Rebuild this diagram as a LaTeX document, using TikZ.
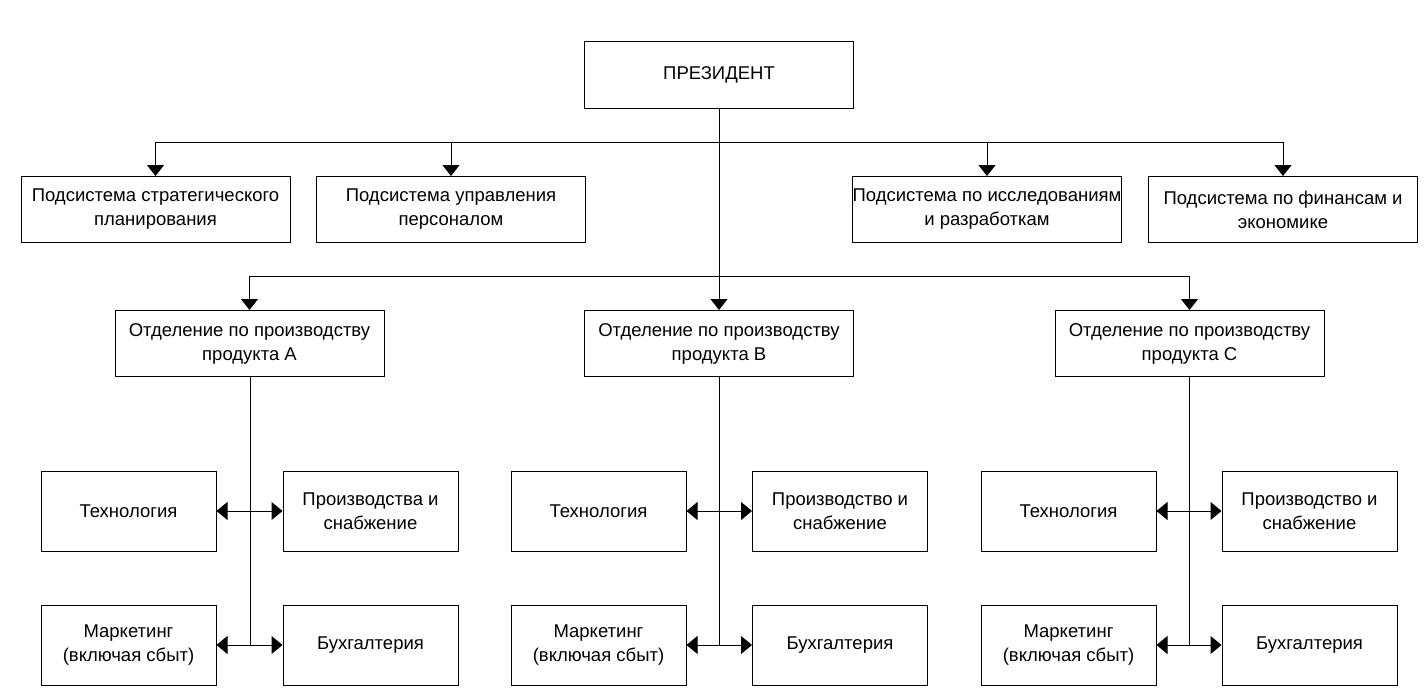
\documentclass[tikz,border=0pt]{standalone}
\usepackage{fontspec}
\setmainfont{Liberation Sans}
\usetikzlibrary{arrows.meta}
\begin{document}
\begin{tikzpicture}[x=1pt,y=-1pt,
  box/.style={draw,line width=1pt,inner sep=0pt,align=center,font=\fontsize{18.5}{24}\selectfont},
  wbox/.style={box,minimum width=269pt,minimum height=66pt},
  sbox/.style={box,minimum width=175pt,minimum height=80pt},
  link/.style={line width=1pt},
  arr/.style={link,-{Triangle[length=11pt,width=17pt]}},
  darr/.style={link,{Triangle[length=11pt,width=18pt]}-{Triangle[length=11pt,width=18pt]}}]
\useasboundingbox (0,0) rectangle (1425,693);
% top
\node[wbox] (pres) at (719,75) {ПРЕЗИДЕНТ};
% subsystems
\node[wbox] (s1) at (155.5,209.5) {Подсистема стратегического\\планирования};
\node[wbox] (s2) at (451,209.5) {Подсистема управления\\персоналом};
\node[wbox] (s3) at (987,209.5) {Подсистема по исследованиям\\и разработкам};
\node[wbox] (s4) at (1283,209.5) {Подсистема по финансам и\\экономике};
% divisions
\node[wbox] (dA) at (249.5,343.5) {Отделение по производству\\продукта A};
\node[wbox] (dB) at (719,343.5) {Отделение по производству\\продукта B};
\node[wbox] (dC) at (1189.5,343.5) {Отделение по производству\\продукта C};
% group A
\node[sbox] (tA) at (128.5,511) {Технология};
\node[sbox] (pA) at (370.5,511) {Производства и\\снабжение};
\node[sbox] (mA) at (128.5,645) {Маркетинг\\(включая сбыт)};
\node[sbox] (bA) at (370.5,645) {Бухгалтерия};
% group B
\node[sbox] (tB) at (598.5,511) {Технология};
\node[sbox] (pB) at (840,511) {Производство и\\снабжение};
\node[sbox] (mB) at (598.5,645) {Маркетинг\\(включая сбыт)};
\node[sbox] (bB) at (840,645) {Бухгалтерия};
% group C
\node[sbox] (tC) at (1068.5,511) {Технология};
\node[sbox] (pC) at (1309.5,511) {Производство и\\снабжение};
\node[sbox] (mC) at (1068.5,645) {Маркетинг\\(включая сбыт)};
\node[sbox] (bC) at (1309.5,645) {Бухгалтерия};
% connectors
\coordinate (h1) at (719,142);
\coordinate (h2) at (719,276);
\draw[arr] (pres.south) -- (dB.north);
\draw[arr] (h1) -| (s1.north);
\draw[arr] (h1) -| (s2.north);
\draw[arr] (h1) -| (s3.north);
\draw[arr] (h1) -| (s4.north);
\draw[arr] (h2) -| (dA.north);
\draw[arr] (h2) -| (dC.north);
\coordinate (vA) at (250,645);
\coordinate (vB) at (719,645);
\coordinate (vC) at (1189,645);
\draw[link] (dA.south -| vA) -- (vA);
\draw[link] (dB.south) -- (vB);
\draw[link] (dC.south -| vC) -- (vC);
\draw[darr] (tA.east) -- (pA.west);
\draw[darr] (mA.east) -- (bA.west);
\draw[darr] (tB.east) -- (pB.west);
\draw[darr] (mB.east) -- (bB.west);
\draw[darr] (tC.east) -- (pC.west);
\draw[darr] (mC.east) -- (bC.west);
\end{tikzpicture}
\end{document}
